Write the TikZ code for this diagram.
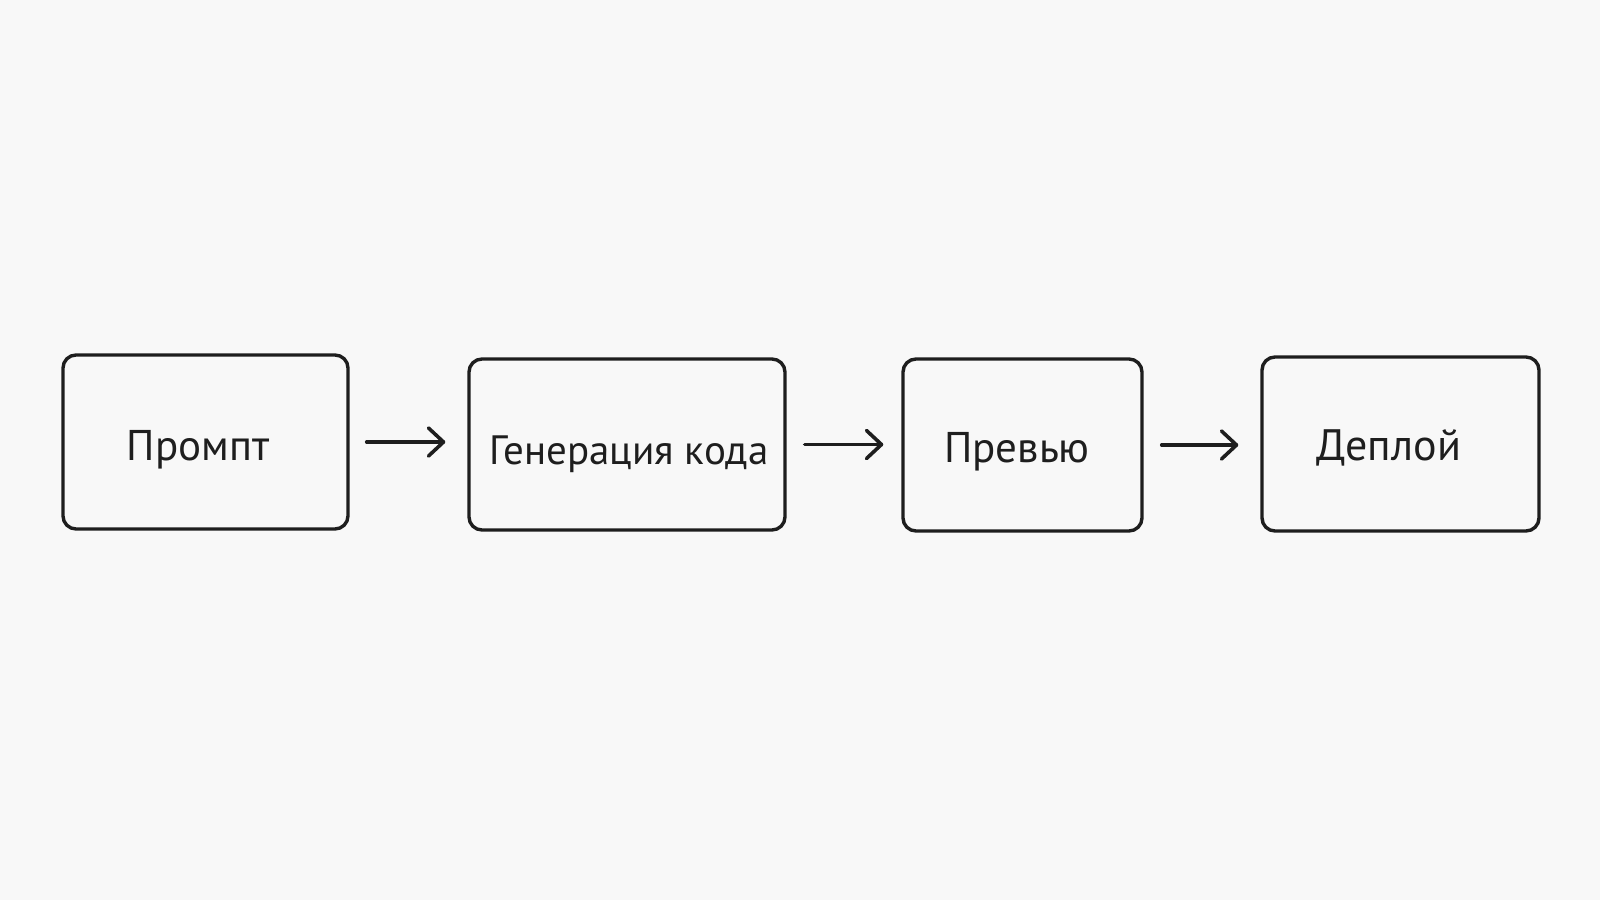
\documentclass[tikz,border=0pt]{standalone}
\usepackage{fontspec}
\setmainfont{PT Sans}
\usetikzlibrary{arrows.meta}
\definecolor{bg}{HTML}{F8F8F8}
\definecolor{ink}{HTML}{1E1E1E}
\begin{document}
\begin{tikzpicture}[x=1pt,y=-1pt,
  stepbox/.style={draw=ink,line width=3.4pt,rounded corners=13pt,inner sep=0pt,fill=none},
  lbl/.style={text=ink,anchor=base,inner sep=0pt,font=\fontsize{43}{45}\selectfont},
  conn/.style={draw=ink,line width=3.6pt,line cap=round,-{Straight Barb[length=15pt,width=28pt,line width=3.6pt,round]}}]
\fill[bg] (0,0) rectangle (1600,900);
\useasboundingbox (0,0) rectangle (1600,900);
\node[stepbox,minimum width=285pt,minimum height=174pt] (b1) at (205.5,442) {};
\node[stepbox,minimum width=316pt,minimum height=171pt] (b2) at (627,444.5) {};
\node[stepbox,minimum width=239pt,minimum height=172pt] (b3) at (1022.5,445) {};
\node[stepbox,minimum width=277pt,minimum height=174pt] (b4) at (1400.5,444) {};
\node[lbl] (t1) at (198,460) {Промпт};
\node[lbl,font=\fontsize{41}{43}\selectfont] (t2) at (629,464) {Генерация кода};
\node[lbl] (t3) at (1017,462) {Превью};
\node[lbl,font=\fontsize{44}{46}\selectfont] (t4) at (1389,460) {Деплой};
\draw[conn,shorten <=17pt,shorten >=22pt] (b1.east) -- (b1.east -| b2.west);
\draw[conn,shorten <=18pt,shorten >=18pt] (b2.east) -- (b2.east -| b3.west);
\draw[conn,shorten <=18pt,shorten >=22pt] (b3.east) -- (b3.east -| b4.west);
\end{tikzpicture}
\end{document}
